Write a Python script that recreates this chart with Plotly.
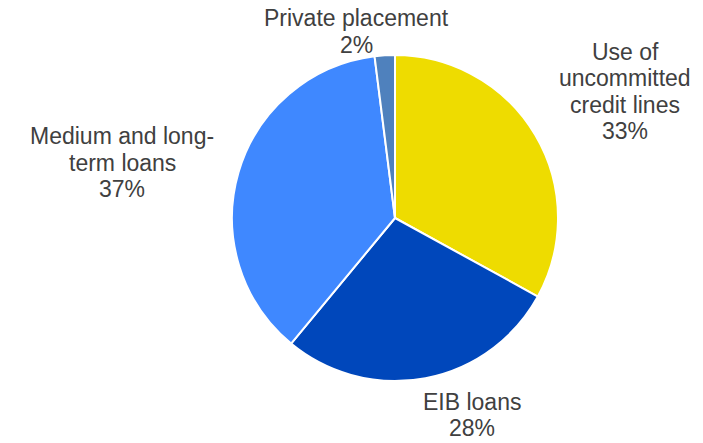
import plotly.graph_objects as go

# Funding sources, clockwise from 12 o'clock
categories = ["Use of uncommitted credit lines", "EIB loans",
              "Medium and long-term loans", "Private placement"]
label_lines = [["Use of", "uncommitted", "credit lines"], ["EIB loans"],
               ["Medium and long-", "term loans"], ["Private placement"]]
shares = [33, 28, 37, 2]
colors = ["#EEDC00", "#0047BB", "#3F88FF", "#4F81BD"]

W, H = 703, 443
M = dict(l=232, r=145, t=55, b=62)
plot_w = W - M["l"] - M["r"]
plot_h = H - M["t"] - M["b"]

# Label block centres (paper coords) and line pitch in pixels
label_x = [1.207, 0.736, -0.336, 0.383]
label_y = [0.888, -0.104, 0.670, 1.072]
line_px = 26.5

total = sum(shares)

fig = go.Figure(go.Pie(
    labels=categories,
    values=shares,
    marker=dict(colors=colors, line=dict(color="white", width=2)),
    sort=False,
    direction="clockwise",
    rotation=0,
    textinfo="none",
    hoverinfo="label+percent",
    showlegend=False,
))

font = dict(family="Liberation Sans, Arial, sans-serif", size=23, color="#404040")
annotations = []
for lines, v, ax, ay in zip(label_lines, shares, label_x, label_y):
    rows = lines + [f"{v / total * 100:.0f}%"]
    n = len(rows)
    for i, row in enumerate(rows):
        offset = ((n - 1) / 2 - i) * line_px / plot_h
        annotations.append(dict(
            x=ax, y=ay + offset, xref="paper", yref="paper",
            text=row, showarrow=False, xanchor="center", yanchor="middle",
            font=font,
        ))

fig.update_layout(
    width=W, height=H,
    margin=M,
    paper_bgcolor="white", plot_bgcolor="white",
    annotations=annotations,
)

fig.write_html("out.html")
